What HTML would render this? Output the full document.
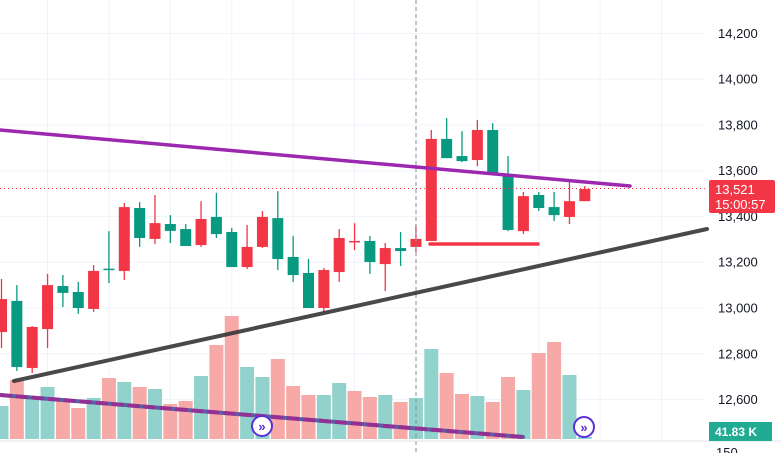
<!DOCTYPE html>
<html><head><meta charset="utf-8"><style>
html,body{margin:0;padding:0;background:#fff;}
svg{display:block;font-family:"Liberation Sans",sans-serif;}
</style></head><body>
<svg id="chart" width="781" height="453" viewBox="0 0 781 453" xmlns="http://www.w3.org/2000/svg">
<g id="grid"></g>
<g id="vol"></g>
<g id="candles"></g>
<g id="draw">
  <line x1="416" y1="0" x2="416" y2="453" stroke="#8a8e99" stroke-width="1" stroke-dasharray="4,3"/>
  <line x1="0" y1="130" x2="630" y2="186" stroke="#9c27b0" stroke-width="3.5" stroke-linecap="round"/>
  <line x1="14" y1="381" x2="707" y2="229" stroke="#3a3a3a" stroke-width="4" stroke-linecap="round" opacity="0.92"/>
  <line x1="430" y1="244" x2="538" y2="244" stroke="#f23645" stroke-width="3.5" stroke-linecap="round"/>
  <line x1="0" y1="395" x2="523" y2="437" stroke="#5b5ea6" stroke-width="4" stroke-linecap="round"/>
  <line x1="0" y1="395" x2="523" y2="437" stroke="#a0268f" stroke-width="4" stroke-dasharray="12,4" opacity="0.8"/>
  <line x1="0" y1="188.5" x2="705" y2="188.5" stroke="#f23645" stroke-width="1" stroke-dasharray="1,3"/>
  <g><circle cx="262" cy="426" r="10" fill="#fff" stroke="#5b2fd6" stroke-width="2"/><text x="262" y="431" text-anchor="middle" font-size="13" fill="#5b2fd6" font-weight="bold">»</text></g>
  <g><circle cx="584" cy="427" r="10" fill="#fff" stroke="#5b2fd6" stroke-width="2"/><text x="584" y="432" text-anchor="middle" font-size="13" fill="#5b2fd6" font-weight="bold">»</text></g>
</g>
<g id="axis"></g>
<line x1="0" y1="441" x2="781" y2="441" stroke="#e0e3eb" stroke-width="1"/>
<text x="716" y="457" font-size="13" fill="#131722">150</text>
<g>
  <rect x="709" y="180" width="66" height="33" rx="2" fill="#f23645"/>
  <text x="715" y="194" font-size="13" fill="#fff">13,521</text>
  <text x="715" y="209" font-size="13" fill="#fff">15:00:57</text>
</g>
<g>
  <rect x="709" y="422" width="63" height="19" fill="#22ab94"/>
  <text x="715" y="436" font-size="12" fill="#fff" font-weight="bold">41.83 K</text>
</g>
</svg>
<script>
const opens  =[13039,12742,12917,13100,13066,13000,13162,13168,13441,13306,13371,13337,13271,13389,13323,13179,13267,13398,13214,13144,13000,13166,13306,13293,13201,13262,13249,13302,13739,13655,13642,13778,13586,13341,13489,13437,13406,13467,13520];
const closes =[12895,13031,12738,12908,13096,13070,12996,13172,13162,13437,13302,13367,13345,13275,13398,13332,13179,13267,13393,13223,13153,13000,13157,13291,13293,13192,13262,13267,13293,13739,13664,13647,13778,13581,13336,13494,13441,13398,13467];
const highs  =[13127,13100,12921,13149,13144,13114,13188,13336,13459,13463,13494,13406,13367,13467,13503,13350,13363,13424,13511,13315,13214,13175,13345,13371,13315,13284,13332,13363,13778,13830,13773,13822,13808,13664,13507,13507,13507,13564,13533];
const lows   =[12825,12725,12716,12825,13004,12974,12983,13109,13122,13267,13280,13284,13271,13267,13306,13179,13170,13262,13166,13114,13000,12983,13114,13253,13149,13074,13184,13245,13293,13655,13638,13620,13586,13336,13323,13424,13380,13367,13467];
const volumes=[165,295,210,260,195,155,205,305,285,260,250,175,190,315,470,615,360,310,400,265,220,220,280,240,210,220,185,205,450,330,225,215,185,310,245,430,485,320,10];
const volUp  =[1,0,1,1,0,0,1,0,1,0,1,0,0,1,0,0,1,1,0,0,0,1,1,0,0,1,0,1,1,0,0,1,0,0,1,0,0,1,1];
const priceTicks=[14200,14000,13800,13600,13400,13200,13000,12800,12600];
const tickLabels=["14,200","14,000","13,800","13,600","13,400","13,200","13,000","12,800","12,600"];
const NS="http://www.w3.org/2000/svg";
function yP(p){return 308-(p-13000)*0.2288;}
function xI(i){return 1.5+15.35*i;}
function yV(v){return 439-v*0.2;}
function mk(t,a){const e=document.createElementNS(NS,t);for(const k in a)e.setAttribute(k,a[k]);return e;}
const grid=document.getElementById('grid');
priceTicks.forEach((p)=>{const l=mk('line',{x1:0,x2:705,y1:yP(p),y2:yP(p),stroke:'#f0f3fa','stroke-width':1});


grid.appendChild(l);});
for(let k=0;k<11;k++){const x=47.5+61.4*k;const l=mk('line',{x1:x,x2:x,y1:0,y2:441,stroke:'#f0f3fa','stroke-width':1});


grid.appendChild(l);}
const axis=document.getElementById('axis');
priceTicks.forEach((p,i)=>{const t=mk('text',{x:718,y:yP(p)+4.5,'font-size':13,fill:'#131722'});t.textContent=tickLabels[i];


axis.appendChild(t);});
const vol=document.getElementById('vol');
volumes.forEach((v,i)=>{const r=mk('rect',{x:xI(i)-7,y:yV(v),width:14,height:439-yV(v),fill:volUp[i]?'#92d2cc':'#f7a9a7'});


vol.appendChild(r);});
const cg=document.getElementById('candles');
opens.forEach((o,i)=>{const c=closes[i];const up=c>=o;const col=up?'#089981':'#f23645';const x=xI(i);
const g=mk('g',{});


g.appendChild(mk('line',{x1:x,x2:x,y1:yP(highs[i]),y2:yP(lows[i]),stroke:col,'stroke-width':1.3}));
const top=yP(Math.max(o,c));const h=Math.max(1.5,yP(Math.min(o,c))-top);
g.appendChild(mk('rect',{x:x-5.5,y:top,width:11,height:h,fill:col}));
cg.appendChild(g);});
</script>
</body></html>
